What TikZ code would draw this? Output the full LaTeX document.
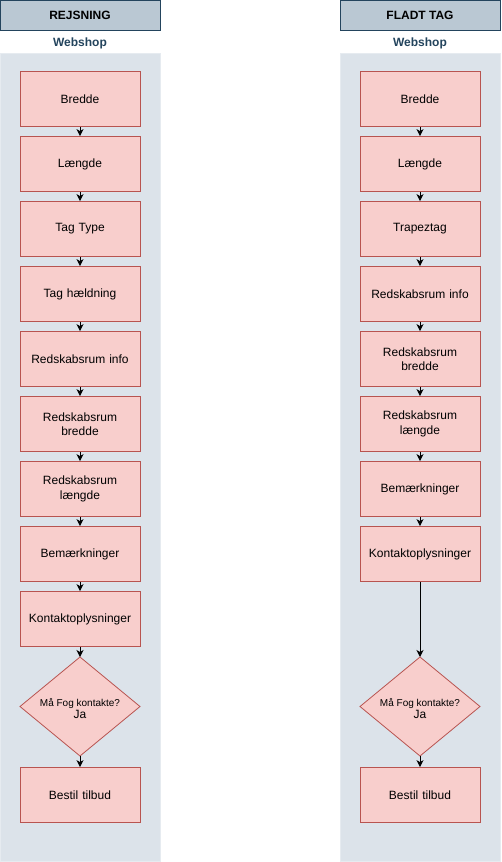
\documentclass[tikz,border=0pt]{standalone}
\usepackage{fontspec}
\setmainfont{Liberation Sans}
\usetikzlibrary{shapes.geometric,arrows.meta}
\definecolor{hdrfill}{HTML}{BAC8D3}
\definecolor{hdrline}{HTML}{23445D}
\definecolor{lanefill}{HTML}{DCE3EA}
\definecolor{laneline}{HTML}{E6EBF0}
\definecolor{boxfill}{HTML}{F8CECC}
\definecolor{boxline}{HTML}{B85450}
\tikzset{
  hdr/.style={draw=hdrline, fill=hdrfill, line width=1pt, minimum width=160pt, minimum height=30pt, inner sep=0pt, font=\fontsize{12}{14}\selectfont\bfseries},
  lanelbl/.style={text=hdrline, font=\fontsize{12}{14}\selectfont\bfseries, inner sep=0pt},
  lane/.style={draw=laneline, fill=lanefill, line width=0.8pt},
  stepbox/.style={draw=boxline, fill=boxfill, line width=0.8pt, minimum width=120pt, minimum height=55pt, inner sep=1pt, align=center, text width=116pt, font=\fontsize{12}{14.5}\selectfont},
  flow/.style={-{Stealth[length=7pt,width=7pt,inset=2pt]}, line width=1pt, black},
}
\begin{document}
\begin{tikzpicture}[x=1pt,y=-1pt]
\useasboundingbox (0,0) rectangle (501,862);
% lanes
\fill[lane] (0.5,53) rectangle (160.5,861.5);
\fill[lane] (340.5,53) rectangle (500.5,861.5);
\draw[laneline, line width=0.8pt] (0.5,53) rectangle (160.5,861.5);
\draw[laneline, line width=0.8pt] (340.5,53) rectangle (500.5,861.5);
% headers
\node[hdr] (h1) at (80,15) {REJSNING};
\node[hdr] (h2) at (420,15) {FLADT TAG};
\node[lanelbl] (w1) at (80,43.5) {Webshop};
\node[lanelbl] (w2) at (420,43.5) {Webshop};
% left column
\node[stepbox] (a1) at (80,99) {Bredde};
\node[stepbox] (a2) at (80,164) {Længde};
\node[stepbox] (a3) at (80,229) {Tag Type};
\node[stepbox] (a4) at (80,294) {Tag hældning};
\node[stepbox] (a5) at (80,359) {Redskabsrum info};
\node[stepbox] (a6) at (80,424) {Redskabsrum\\bredde};
\node[stepbox] (a7) at (80,489) {Redskabsrum\\længde};
\node[stepbox] (a8) at (80,554) {Bemærkninger};
\node[stepbox] (a9) at (80,619) {Kontaktoplysninger};
\draw[boxline, fill=boxfill, line width=0.8pt] (80,657) -- (140,706.5) -- (80,756) -- (20,706.5) -- cycle;
\coordinate (a10t) at (80,657);
\coordinate (a10b) at (80,756);
\node[align=center, inner sep=0pt] (a10l) at (80,708.5) {{\fontsize{10}{14}\selectfont Må Fog kontakte?}\\{\fontsize{12}{14}\selectfont Ja}};
\node[stepbox] (a11) at (80,795) {Bestil tilbud};
% right column
\node[stepbox] (b1) at (420,99) {Bredde};
\node[stepbox] (b2) at (420,164) {Længde};
\node[stepbox] (b3) at (420,229) {Trapeztag};
\node[stepbox] (b4) at (420,294) {Redskabsrum info};
\node[stepbox] (b5) at (420,359) {Redskabsrum\\bredde};
\node[stepbox] (b6) at (420,424) {Redskabsrum\\længde};
\node[stepbox] (b7) at (420,489) {Bemærkninger};
\node[stepbox] (b8) at (420,554) {Kontaktoplysninger};
\draw[boxline, fill=boxfill, line width=0.8pt] (420,657) -- (480,706.5) -- (420,756) -- (360,706.5) -- cycle;
\coordinate (b9t) at (420,657);
\coordinate (b9b) at (420,756);
\node[align=center, inner sep=0pt] (b9l) at (420,708.5) {{\fontsize{10}{14}\selectfont Må Fog kontakte?}\\{\fontsize{12}{14}\selectfont Ja}};
\node[stepbox] (b10) at (420,795) {Bestil tilbud};
% connectors left
\draw[flow] (a1) -- (a2);
\draw[flow] (a2) -- (a3);
\draw[flow] (a3) -- (a4);
\draw[flow] (a4) -- (a5);
\draw[flow] (a5) -- (a6);
\draw[flow] (a6) -- (a7);
\draw[flow] (a7) -- (a8);
\draw[flow] (a8) -- (a9);
\draw[flow] (a9) -- (a10t);
\draw[flow] (a10b) -- (a11);
% connectors right
\draw[flow] (b1) -- (b2);
\draw[flow] (b2) -- (b3);
\draw[flow] (b3) -- (b4);
\draw[flow] (b4) -- (b5);
\draw[flow] (b5) -- (b6);
\draw[flow] (b6) -- (b7);
\draw[flow] (b7) -- (b8);
\draw[flow] (b8) -- (b9t);
\draw[flow] (b9b) -- (b10);
\end{tikzpicture}
\end{document}
